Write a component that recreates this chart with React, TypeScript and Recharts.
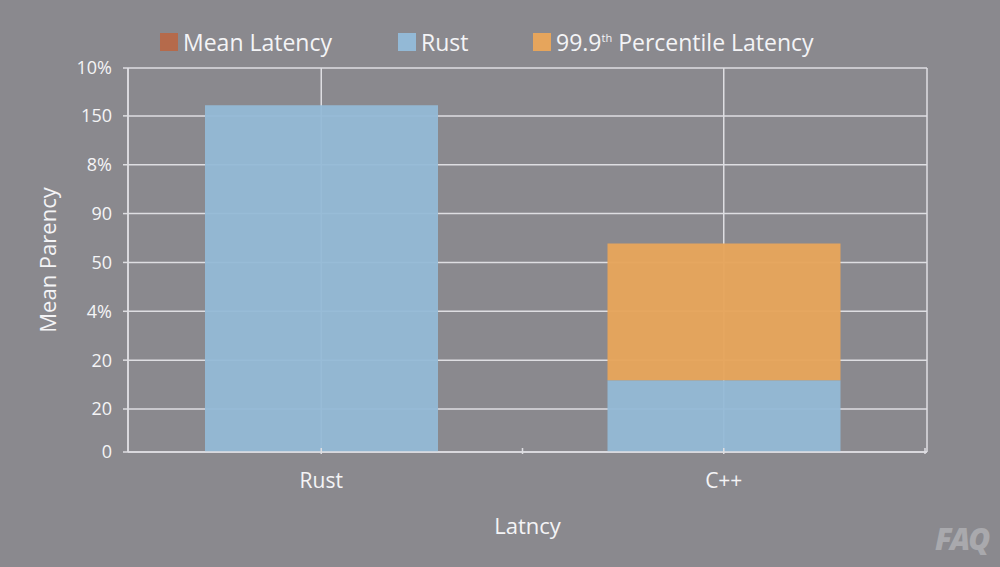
import React from 'react';
import { BarChart, Bar, XAxis, YAxis, CartesianGrid, Label } from 'recharts';

const categories = ['Rust', 'C++'];
const rustValues = [7.1, 1.47];
const p999Values = [0, 2.8];
const yTicks = [0, 0.88, 1.88, 2.88, 3.88, 4.88, 5.88, 6.88, 7.86];
const yTickLabels = ['0', '20', '20', '4%', '50', '90', '8%', '150', '10%'];

const legendItems = [
  { label: 'Mean Latency', color: '#b56a4b' },
  { label: 'Rust', color: '#93b9d6' },
  { label: '99.9th Percentile Latency', color: '#e6a55c' },
];

const data = categories.map((name, i) => ({ name, rust: rustValues[i], p999: p999Values[i] }));

const FONT = '"Open Sans", "Noto Sans", sans-serif';
const GRID = '#dedee2';
const TEXT = '#f4f4f6';

// x tick: label and tick under the centre, plus a tick at the band's right edge
const XTick = (props: any) => {
  const { x, y, payload } = props;
  const half = payload && payload.offset ? payload.offset : 201;
  const axisY = y - 12;
  return (
    <g>
      <line x1={x} x2={x} y1={axisY} y2={axisY + 6} stroke={GRID} strokeWidth={1.5} />
      <line x1={x + half} x2={x + half} y1={axisY} y2={axisY + 6} stroke={GRID} strokeWidth={1.5} />
      <text x={x} y={y + 10} textAnchor="middle" dominantBaseline="hanging" fill={TEXT} fontSize={21} fontFamily={FONT}>
        {payload.value}
      </text>
    </g>
  );
};

const LegendRow = () => (
  <div style={{ position: 'absolute', left: 0, top: 22, width: 1000, height: 40, fontFamily: FONT, fontSize: 23, color: TEXT }}>
    {legendItems.map((it, i) => {
      const lefts = [160, 398, 533];
      return (
        <div key={it.label} style={{ position: 'absolute', left: lefts[i], top: 0, display: 'flex', alignItems: 'center', height: 40 }}>
          <span style={{ width: 18, height: 18, background: it.color, display: 'inline-block', marginRight: 5 }} />
          {it.label === '99.9th Percentile Latency' ? (
            <span>
              99.9<sup style={{ fontSize: 11 }}>th</sup> Percentile Latency
            </span>
          ) : (
            <span>{it.label}</span>
          )}
        </div>
      );
    })}
  </div>
);

export default function App() {
  return (
    <div style={{ position: 'absolute', left: 0, top: 0, width: 1000, height: 567, background: '#8a898e', overflow: 'hidden' }}>
      <LegendRow />
      <BarChart width={1000} height={567} data={data} margin={{ top: 68, right: 73, bottom: 30, left: 8 }} barSize={233}>
        <CartesianGrid stroke={GRID} strokeWidth={1.5} />
        <XAxis
          dataKey="name"
          height={85}
          padding={{ left: -8, right: 2 }}
          stroke={GRID}
          strokeWidth={1.5}
          tickSize={6}
          tickLine={false}
          tick={<XTick />}
        >
          <Label value="Latncy" position="insideBottom" offset={3} fill={TEXT} fontSize={22} fontFamily={FONT} />
        </XAxis>
        <YAxis
          width={120}
          domain={[0, 7.86]}
          ticks={yTicks}
          interval={0}
          tickFormatter={(v: number, i: number) => yTickLabels[i]}
          stroke={GRID}
          strokeWidth={1.5}
          tickSize={5}
          tickMargin={11}
          tick={{ fill: TEXT, fontSize: 18, fontFamily: FONT }}
        >
          <Label
            value="Mean Parency"
            angle={-90}
            position="insideLeft"
            offset={40}
            fill={TEXT}
            fontSize={22}
            fontFamily={FONT}
            style={{ textAnchor: 'middle' }}
          />
        </YAxis>
        <Bar dataKey="rust" stackId="a" fill="#93b9d6" fillOpacity={0.95} isAnimationActive={false} />
        <Bar dataKey="p999" stackId="a" fill="#e6a55c" fillOpacity={0.97} isAnimationActive={false} />
      </BarChart>
      <div
        style={{
          position: 'absolute',
          left: 935,
          top: 518,
          fontFamily: FONT,
          fontSize: 30,
          fontWeight: 800,
          fontStyle: 'italic',
          color: '#a9a9ad',
          letterSpacing: -2,
        }}
      >
        FAQ
      </div>
    </div>
  );
}
